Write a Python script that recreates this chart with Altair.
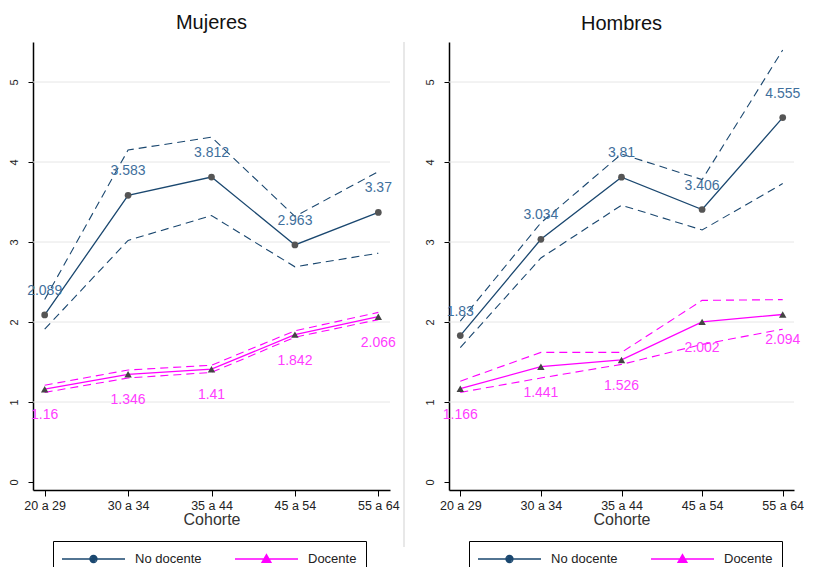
import altair as alt
import pandas as pd

cohorts = ["20 a 29", "30 a 34", "35 a 44", "45 a 54", "55 a 64"]
series_names = ["No docente", "Docente"]

# Mujeres
muj_nodoc = [2.089, 3.583, 3.812, 2.963, 3.37]
muj_nodoc_hi = [2.28, 4.15, 4.31, 3.32, 3.88]
muj_nodoc_lo = [1.91, 3.02, 3.33, 2.69, 2.86]
muj_doc = [1.16, 1.346, 1.41, 1.842, 2.066]
muj_doc_hi = [1.21, 1.40, 1.46, 1.89, 2.12]
muj_doc_lo = [1.12, 1.30, 1.37, 1.81, 2.03]

# Hombres
hom_nodoc = [1.83, 3.034, 3.81, 3.406, 4.555]
hom_nodoc_hi = [2.01, 3.24, 4.10, 3.78, 5.40]
hom_nodoc_lo = [1.68, 2.80, 3.46, 3.15, 3.73]
hom_doc = [1.166, 1.441, 1.526, 2.002, 2.094]
hom_doc_hi = [1.26, 1.62, 1.62, 2.27, 2.28]
hom_doc_lo = [1.12, 1.30, 1.47, 1.72, 1.91]

muj_nodoc_txt = ["2.089", "3.583", "3.812", "2.963", "3.37"]
muj_doc_txt = ["1.16", "1.346", "1.41", "1.842", "2.066"]
hom_nodoc_txt = ["1.83", "3.034", "3.81", "3.406", "4.555"]
hom_doc_txt = ["1.166", "1.441", "1.526", "2.002", "2.094"]

grid_vals = [1, 2, 3, 4, 5]

NAVY = "#1a476f"
MAG = "#ff00ff"
FONT = "Liberation Sans"


def make_df(nd, nd_hi, nd_lo, nd_txt, d, d_hi, d_lo, d_txt):
    rows = []
    for i, c in enumerate(cohorts):
        rows.append(dict(cohort=c, series="No docente", value=nd[i], hi=nd_hi[i], lo=nd_lo[i], label=nd_txt[i]))
    for i, c in enumerate(cohorts):
        rows.append(dict(cohort=c, series="Docente", value=d[i], hi=d_hi[i], lo=d_lo[i], label=d_txt[i]))
    return pd.DataFrame(rows)


df_m = make_df(muj_nodoc, muj_nodoc_hi, muj_nodoc_lo, muj_nodoc_txt, muj_doc, muj_doc_hi, muj_doc_lo, muj_doc_txt)
df_h = make_df(hom_nodoc, hom_nodoc_hi, hom_nodoc_lo, hom_nodoc_txt, hom_doc, hom_doc_hi, hom_doc_lo, hom_doc_txt)
df_grid = pd.DataFrame({"g": grid_vals})

# legend glyphs: a line segment with a (nearly solid) marker in the middle (1 unit = 8 px)
path_circle = ("M-1.125,0L6.75,0"
               "M2.37,0A0.44,0.44,0,1,1,3.25,0A0.44,0.44,0,1,1,2.37,0Z"
               "M2.53,0A0.28,0.28,0,1,1,3.09,0A0.28,0.28,0,1,1,2.53,0Z"
               "M2.69,0A0.12,0.12,0,1,1,2.93,0A0.12,0.12,0,1,1,2.69,0Z")
path_tri = ("M-1.125,0L6.75,0"
            "M2.81,-0.55L3.37,0.42L2.25,0.42Z"
            "M2.81,-0.25L3.1,0.26L2.52,0.26Z"
            "M2.81,0L2.9,0.15L2.72,0.15Z")


def panel(df, title, width, separator=False):
    xenc = alt.X("cohort:N", sort=cohorts,
                 scale=alt.Scale(type="point", padding=0.14),
                 axis=alt.Axis(title="Cohorte", labelAngle=0, labelFontSize=12.5, labelFont=FONT,
                               labelColor="#222", titleFont=FONT, titleFontSize=16, titleFontWeight="normal",
                               titleColor="#333", titlePadding=0, tickSize=6, tickColor="#000",
                               domainColor="#000", domainWidth=1.5, labelPadding=3))
    yscale = alt.Scale(domain=[-0.1, 5.5], nice=False, zero=False)
    yaxis = alt.Axis(title=None, values=[0, 1, 2, 3, 4, 5], labelAngle=-90, labelFontSize=11,
                     labelFont=FONT, labelColor="#222", grid=False, tickSize=5, tickColor="#000",
                     domainColor="#000", domainWidth=1.5, labelPadding=9)
    color_scale = alt.Scale(domain=series_names, range=[NAVY, MAG])
    leg = alt.Legend(title=None, orient="none", legendX=20, legendY=499,
                     direction="horizontal", symbolSize=256,
                     symbolStrokeWidth=1.3, symbolOpacity=1,
                     labelFontSize=13, labelFont=FONT, labelColor="#222",
                     columnPadding=30, labelOffset=55,
                     strokeColor="#000", padding=9)
    cenc = alt.Color("series:N", scale=color_scale, sort=series_names, legend=leg)
    base = alt.Chart(df)

    grid = alt.Chart(df_grid).mark_rule(color="#e6e6e6", strokeWidth=1).encode(
        y=alt.Y("g:Q", scale=yscale, axis=yaxis))

    hi = base.mark_line(strokeDash=[8, 5], strokeWidth=1.1).encode(
        x=xenc, y=alt.Y("hi:Q", scale=yscale, axis=yaxis), color=cenc)
    lo = base.mark_line(strokeDash=[8, 5], strokeWidth=1.1).encode(
        x=xenc, y=alt.Y("lo:Q", scale=yscale, axis=yaxis), color=cenc)
    line = base.mark_line(strokeWidth=1.3).encode(
        x=xenc, y=alt.Y("value:Q", scale=yscale, axis=yaxis), color=cenc)
    legend_layer = base.transform_filter(alt.datum.cohort == cohorts[0]).mark_point(
        filled=False, opacity=0, size=256).encode(
        x=xenc, y=alt.Y("value:Q", scale=yscale, axis=yaxis), color=cenc,
        shape=alt.Shape("series:N", sort=series_names,
                        scale=alt.Scale(domain=series_names, range=[path_circle, path_tri]),
                        legend=leg))
    pts_nd = base.transform_filter(alt.datum.series == "No docente").mark_point(
        filled=True, opacity=1, color="#555", shape="circle", size=45).encode(
        x=xenc, y=alt.Y("value:Q", scale=yscale, axis=yaxis))
    pts_d = base.transform_filter(alt.datum.series == "Docente").mark_point(
        filled=True, opacity=1, color="#444", shape="triangle-up", size=55).encode(
        x=xenc, y=alt.Y("value:Q", scale=yscale, axis=yaxis))
    txt_nd = base.transform_filter(alt.datum.series == "No docente").mark_text(
        dy=-24, fontSize=14, font=FONT, color="#3f6f9c").encode(
        x=xenc, y=alt.Y("value:Q", scale=yscale, axis=yaxis), text="label:N")
    txt_d = base.transform_filter(alt.datum.series == "Docente").mark_text(
        dy=26, fontSize=14, font=FONT, color="#ff3cff").encode(
        x=xenc, y=alt.Y("value:Q", scale=yscale, axis=yaxis), text="label:N")

    layers = [grid, hi, lo, line, legend_layer, pts_nd, pts_d, txt_nd, txt_d]
    if separator:
        sep = alt.Chart(df_grid).mark_rule(color="#e8e8e8", strokeWidth=2).encode(
            x=alt.value(width + 14), y=alt.value(0), y2=alt.value(505))
        layers.append(sep)
    return alt.layer(*layers).properties(
        width=width, height=448,
        title=alt.TitleParams(title, fontSize=20, font=FONT, fontWeight="normal", color="#111",
                              anchor="middle", offset=8))


left = panel(df_m, "Mujeres", 357, separator=True)
right = panel(df_h, "Hombres", 345)

chart = alt.hconcat(left, right, spacing=19).resolve_scale(
    color="independent", shape="independent"
).properties(
    background="white", padding={"left": 0, "top": 5, "right": 0, "bottom": 0}
).configure_view(stroke=None)

chart.save("out.html", embed_options={"renderer": "svg", "actions": False})
